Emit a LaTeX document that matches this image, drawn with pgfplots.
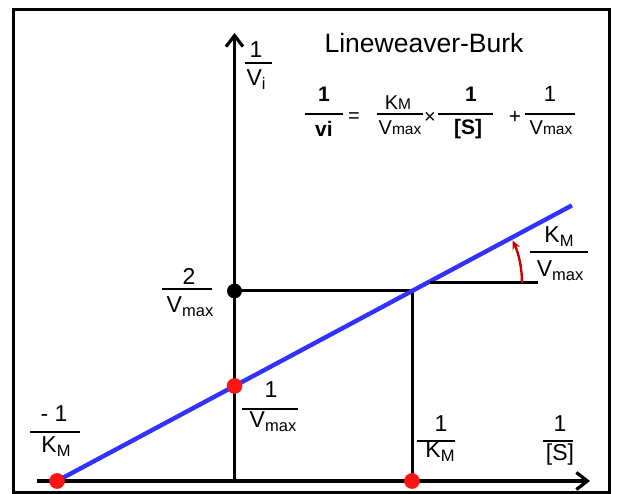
\documentclass[border=0pt]{standalone}
\usepackage{fontspec}
\setmainfont{Liberation Sans}
\usepackage{pgfplots}
\pgfplotsset{compat=1.18}
\usetikzlibrary{arrows.meta}

\definecolor{lbblue}{RGB}{50,50,255}
\definecolor{lbred}{RGB}{255,20,20}
\definecolor{lbdarkred}{RGB}{200,0,0}

% label fonts
\newcommand{\lbl}{\fontsize{23}{25}\selectfont}
\newcommand{\sub}[1]{\raisebox{-4pt}{\fontsize{16.5}{17}\selectfont #1}}
\newcommand{\eqr}{\fontsize{20}{22}\selectfont}
\newcommand{\eqb}{\fontsize{21}{23}\selectfont\bfseries}
\newcommand{\eqs}[1]{{\fontsize{15.5}{16}\selectfont #1}}

\begin{document}
\begin{tikzpicture}
\useasboundingbox (0,0) rectangle (618pt,494pt);
\begin{axis}[
  at={(14pt,1pt)}, anchor=south west,
  scale only axis, width=595pt, height=483pt,
  xmin=-1.2423, xmax=2.1098, ymin=-0.1263, ymax=4.9579,
  xtick=\empty, ytick=\empty,
  axis line style={line width=3pt},
  clip=false,
]
% coordinate axes
\addplot[black, line width=3.2pt, -{Straight Barb[length=11pt,width=17pt]}]
  coordinates {(-1.1127,0) (2.0028,0)};
\addplot[black, line width=3.2pt, -{Straight Barb[length=11pt,width=17pt]}]
  coordinates {(0,-0.0105) (0,4.716)};
% guide lines at 1/K_M and 2/V_max
\addplot[black, line width=3pt] coordinates {(0,2) (1,2) (1,0)};
% 1/v = (K_M/V_max)(1/[S]) + 1/V_max
\addplot[lbblue, line width=4.4pt] coordinates {(-1,0) (1.901,2.901)};
% intercepts
\addplot[only marks, mark=*, mark size=7.2pt, black] coordinates {(0,2)};
\addplot[only marks, mark=*, mark size=7.6pt, lbred, mark options={draw=lbred}]
  coordinates {(-1,0) (0,1) (1,0)};
\end{axis}

\begin{scope}[x=1pt, y=-1pt, shift={(0,494pt)}, every node/.style={inner sep=0pt, anchor=base}]
% title and equation
\node at (424,53) {\fontsize{26.5}{28}\selectfont Lineweaver-Burk};
\node at (324,102) {\eqb 1};
\draw[line width=2.8pt] (305,114) -- (343,114);
\node at (324,137) {\eqb vi};
\node[anchor=center] at (354,118) {\eqr =};
\node at (398,110) {\eqr K\eqs{M}};
\draw[line width=2.8pt] (377,114) -- (423,114);
\node at (400,135) {\eqr V\eqs{max}};
\node[anchor=center] at (430,118) {\eqr ×};
\node at (471,102) {\eqb 1};
\draw[line width=2.8pt] (438,114) -- (493,114);
\node at (468,135) {\eqb [S]};
\node[anchor=center] at (515,117) {\fontsize{21}{22}\selectfont +};
\node at (550,102) {\fontsize{22}{22}\selectfont 1};
\draw[line width=2.8pt] (525,114) -- (575,114);
\node at (551,135) {\eqr V\eqs{max}};

% axis labels
\node at (256,58) {\lbl 1};
\draw[line width=2.8pt] (245,63) -- (272,63);
\node at (256,86) {\lbl V\sub{i}};

\node at (560,432) {\lbl 1};
\draw[line width=2.8pt] (543,441) -- (573,441);
\node at (560,461) {\lbl [S]};

% intercept labels
\node at (189,285) {\lbl 2};
\draw[line width=2.8pt] (162,289) -- (212,289);
\node at (190,313) {\lbl V\sub{max}};

\node at (271,398) {\lbl 1};
\draw[line width=2.8pt] (242,409) -- (298,409);
\node at (273,428) {\lbl V\sub{max}};

\node at (54,422) {\lbl - 1};
\draw[line width=2.8pt] (30,432) -- (80,432);
\node at (56,453) {\lbl K\sub{M}};

\node at (441,432) {\lbl 1};
\draw[line width=2.8pt] (417,441) -- (455,441);
\node at (440,458) {\lbl K\sub{M}};

% slope
\draw[line width=3pt] (430,283) -- (538,283);
\draw[lbdarkred, line width=2.4pt, -{Stealth[length=9pt,width=8pt]}]
  (522,283) arc[start angle=0, end angle=-25, radius=101];
\node at (559,243) {\lbl K\sub{M}};
\draw[line width=2.8pt] (530,252) -- (588,252);
\node at (560,277) {\lbl V\sub{max}};
\end{scope}
\end{tikzpicture}
\end{document}
